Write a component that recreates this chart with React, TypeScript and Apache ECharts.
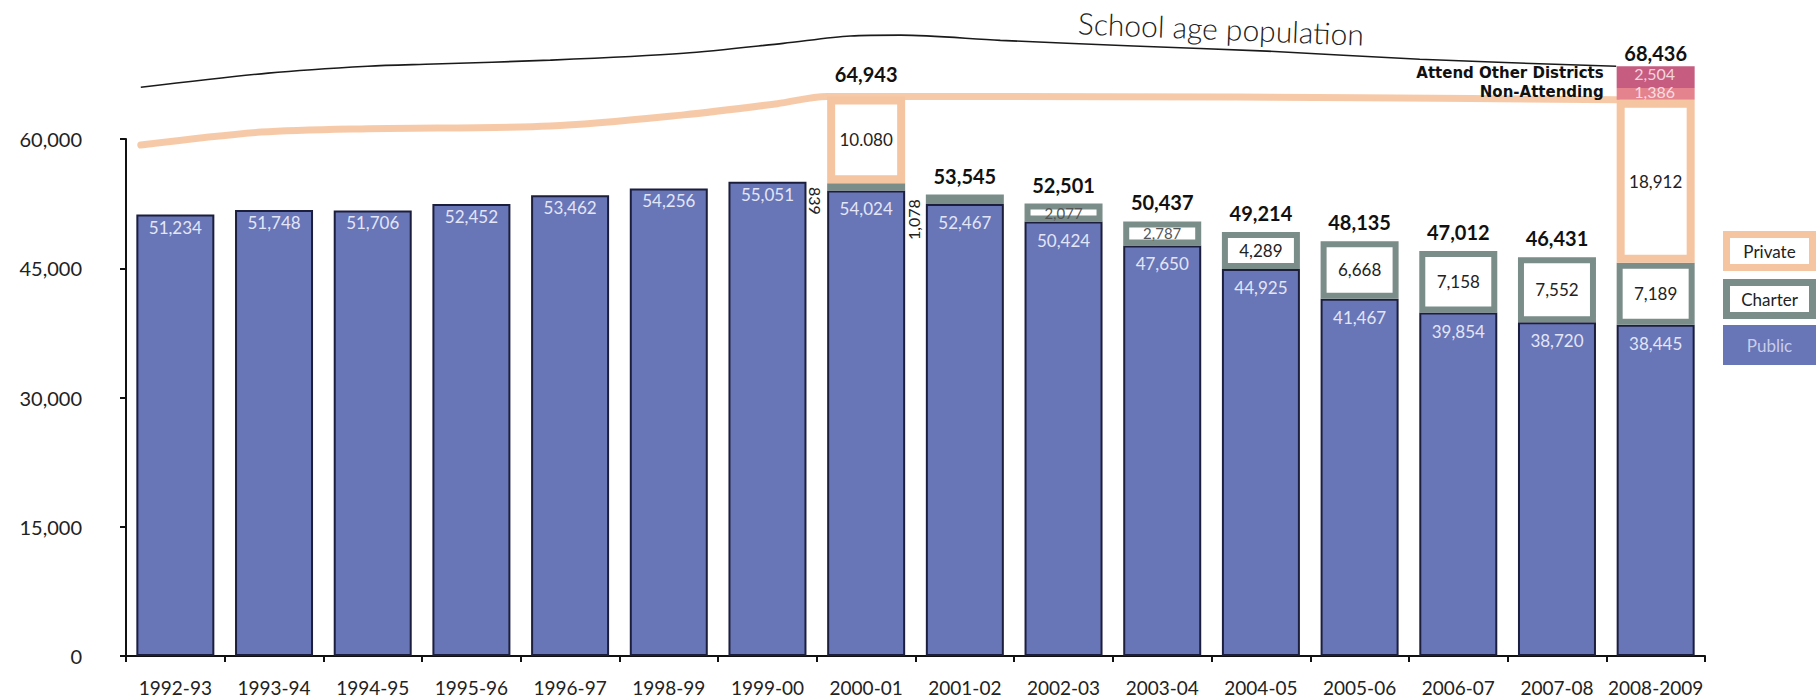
import React, { useEffect, useRef } from "react";
import * as echarts from "echarts";

const categories = [
  "1992-93", "1993-94", "1994-95", "1995-96", "1996-97", "1998-99", "1999-00", "2000-01",
  "2001-02", "2002-03", "2003-04", "2004-05", "2005-06", "2006-07", "2007-08", "2008-2009",
];
const publicValues = [51234, 51748, 51706, 52452, 53462, 54256, 55051, 54024, 52467, 50424, 47650, 44925, 41467, 39854, 38720, 38445];
const charterValues = [null, null, null, null, null, null, null, 839, 1078, 2077, 2787, 4289, 6668, 7158, 7552, 7189];
const privateValues = [null, null, null, null, null, null, null, 10080, null, null, null, null, null, null, null, 18912];
const nonAttendingValues = [null, null, null, null, null, null, null, null, null, null, null, null, null, null, null, 1386];
const otherDistrictValues = [null, null, null, null, null, null, null, null, null, null, null, null, null, null, null, 2504];
const totalLabels = [null, null, null, null, null, null, null, 64943, 53545, 52501, 50437, 49214, 48135, 47012, 46431, 68436];

// School age population line (x in category units, y in students)
const popX = [0.15, 1.44, 2.45, 3.12, 4.3, 5.65, 6.66, 7.34, 7.85, 8.86, 10.21, 11.56, 13.11, 15.1];
const popValues = [66000, 67650, 68450, 68700, 69150, 69950, 71100, 71950, 72050, 71450, 70800, 70200, 69250, 68436];

// Thick orange enrollment line
const enrollX = [0.15, 1.37, 2.45, 4.3, 5.65, 6.6, 7.1, 7.9, 10.0, 12.5, 15.1];
const enrollValues = [59300, 60800, 61200, 61500, 62800, 64100, 64943, 64943, 64900, 64800, 64546];

const yMin = 0;
const yMax = 60000;
const yInterval = 15000;

const FONT = "Lato, 'Open Sans', sans-serif";
const BOLD_FONT = "'DejaVu Sans', Lato, sans-serif";
const PUBLIC_FILL = "#6875b6";
const PUBLIC_BORDER = "#1b1f3d";
const CHARTER_GRAY = "#7b8d89";
const PEACH = "#f5c4a0";
const PINK_LOW = "#e4838d";
const PINK_HIGH = "#c65d80";

const fmt = (v: number) => Number(v).toLocaleString("en-US");

export default function App() {
  const ref = useRef<HTMLDivElement>(null);

  useEffect(() => {
    if (!ref.current) return;
    const chart = echarts.init(ref.current, undefined, { renderer: "svg" });

    const publicData = publicValues.map((v, i) => ({
      value: v,
      label: { distance: i >= 7 ? 10 : 4 },
    }));

    const charterData = charterValues.map((v, i) => {
      if (v == null) return "-";
      if (i === 7) {
        return {
          value: v,
          label: {
            position: "left",
            rotate: -90,
            align: "left",
            verticalAlign: "top",
            distance: 4,
            color: "#222",
            fontSize: 16,
          },
        };
      }
      if (i === 8) {
        return {
          value: v,
          label: {
            position: "left",
            rotate: 90,
            align: "right",
            verticalAlign: "bottom",
            distance: 4,
            color: "#222",
            fontSize: 16,
          },
        };
      }
      if (v < 3000) {
        return { value: v, label: { color: "#555", fontSize: 15 } };
      }
      return v;
    });

    const privateData = privateValues.map((v, i) => {
      if (v == null) return "-";
      if (i === 7) return { value: v, label: { formatter: "10.080" } };
      return v;
    });

    const totalData = totalLabels.map((v, i) => {
      if (v == null) return "-";
      if (i === 7) return { value: 0, label: { distance: 12 } };
      if (i === 15) return { value: 0, label: { distance: 3 } };
      return 0;
    });

    const toData = (arr: (number | null)[]) => arr.map((v) => (v == null ? "-" : v));

    const sideLabel = (color: string, dy: number) => ({
      show: true,
      position: "insideRight",
      distance: 0,
      offset: [0, dy],
      fontSize: 15,
      fontWeight: "bold",
      fontFamily: BOLD_FONT,
      lineHeight: 16,
      formatter: (p: any) => "{n|" + p.seriesName + "}{v|" + fmt(p.value) + "}",
      rich: {
        n: { fontFamily: BOLD_FONT, fontWeight: "bold", fontSize: 15, lineHeight: 16, color: "#111", padding: [0, 11, 0, 0] },
        v: { fontFamily: FONT, fontWeight: "normal", fontSize: 16, lineHeight: 16, color, width: 80, align: "center" },
      },
    });

    const option: any = {
      animation: false,
      backgroundColor: "#ffffff",
      textStyle: { fontFamily: FONT },
      grid: { left: 126, right: 115, top: 139, bottom: 44, containLabel: false },
      xAxis: [
        {
          type: "category",
          data: categories,
          axisLine: { show: true, lineStyle: { color: "#111", width: 2 } },
          axisTick: { show: true, length: 6, lineStyle: { color: "#111", width: 2 } },
          axisLabel: { color: "#222", fontSize: 19, margin: 22, fontFamily: FONT, interval: 0 },
          splitLine: { show: false },
        },
        { type: "value", min: 0, max: 16, show: false },
      ],
      yAxis: {
        type: "value",
        min: yMin,
        max: yMax,
        interval: yInterval,
        axisLine: { show: true, lineStyle: { color: "#111", width: 2 } },
        axisTick: { show: true, length: 6, lineStyle: { color: "#111", width: 2 } },
        axisLabel: { color: "#222", fontSize: 20, margin: 44, fontFamily: FONT, formatter: (v: number) => fmt(v) },
        splitLine: { show: false },
      },
      series: [
        {
          name: "Enrollment",
          type: "line",
          xAxisIndex: 1,
          clip: false,
          smooth: 0.3,
          symbol: "none",
          showSymbol: false,
          z: 1,
          data: enrollX.map((x, i) => [x, enrollValues[i]]),
          lineStyle: { color: PEACH, width: 7, opacity: 0.9, cap: "round" },
        },
        {
          name: "Public",
          type: "bar",
          stack: "enroll",
          barWidth: 78,
          clip: false,
          data: publicData,
          itemStyle: { color: PUBLIC_FILL, borderColor: PUBLIC_BORDER, borderWidth: 2 },
          label: {
            show: true,
            position: "insideTop",
            color: "#e3e6f6",
            fontSize: 17,
            fontFamily: FONT,
            formatter: (p: any) => fmt(p.value),
          },
        },
        {
          name: "Charter",
          type: "bar",
          stack: "enroll",
          barWidth: 78,
          clip: false,
          data: charterData,
          itemStyle: { color: "#ffffff", borderColor: CHARTER_GRAY, borderWidth: 6 },
          label: {
            show: true,
            position: "inside",
            color: "#222",
            fontSize: 17,
            fontFamily: FONT,
            formatter: (p: any) => fmt(p.value),
          },
        },
        {
          name: "Private",
          type: "bar",
          stack: "enroll",
          barWidth: 78,
          clip: false,
          data: privateData,
          itemStyle: { color: "#ffffff", borderColor: PEACH, borderWidth: 8 },
          label: {
            show: true,
            position: "inside",
            color: "#222",
            fontSize: 17,
            fontFamily: FONT,
            formatter: (p: any) => fmt(p.value),
          },
        },
        {
          name: "Non-Attending",
          type: "bar",
          stack: "enroll",
          barWidth: 78,
          clip: false,
          data: toData(nonAttendingValues),
          itemStyle: { color: PINK_LOW },
          label: sideLabel("#f6dde1", -2),
        },
        {
          name: "Attend Other Districts",
          type: "bar",
          stack: "enroll",
          barWidth: 78,
          clip: false,
          data: toData(otherDistrictValues),
          itemStyle: { color: PINK_HIGH },
          label: sideLabel("#f3d4de", -4),
        },
        {
          name: "Total",
          type: "bar",
          stack: "enroll",
          barWidth: 78,
          clip: false,
          data: totalData,
          itemStyle: { color: "rgba(0,0,0,0)", borderWidth: 0 },
          label: {
            show: true,
            position: "top",
            distance: 9,
            color: "#111",
            fontSize: 20,
            fontWeight: "bold",
            fontFamily: FONT,
            formatter: (p: any) => fmt(totalLabels[p.dataIndex] as number),
          },
        },
        {
          name: "School age population",
          type: "line",
          xAxisIndex: 1,
          clip: false,
          smooth: 0.3,
          symbol: "none",
          showSymbol: false,
          z: 4,
          data: popX.map((x, i) => [x, popValues[i]]),
          lineStyle: { color: "#1a1a1a", width: 1.6 },
        },
      ],
      graphic: [
        {
          type: "text",
          x: 1221,
          y: 28,
          rotation: -0.04,
          style: {
            text: "School age population",
            fill: "#222",
            fontSize: 30,
            fontWeight: 300,
            fontFamily: FONT,
            align: "center",
            verticalAlign: "middle",
          },
        },
        {
          type: "group",
          x: 1723,
          y: 231,
          children: [
            {
              type: "rect",
              shape: { x: 3.5, y: 3.5, width: 86, height: 33 },
              style: { fill: "#fff", stroke: PEACH, lineWidth: 7 },
            },
            {
              type: "text",
              x: 46.5,
              y: 20,
              style: { text: "Private", fill: "#222", fontSize: 17, fontFamily: FONT, align: "center", verticalAlign: "middle" },
            },
            {
              type: "rect",
              shape: { x: 3.5, y: 51.5, width: 86, height: 33 },
              style: { fill: "#fff", stroke: CHARTER_GRAY, lineWidth: 7 },
            },
            {
              type: "text",
              x: 46.5,
              y: 68,
              style: { text: "Charter", fill: "#222", fontSize: 17, fontFamily: FONT, align: "center", verticalAlign: "middle" },
            },
            {
              type: "rect",
              shape: { x: 0, y: 94, width: 93, height: 40 },
              style: { fill: PUBLIC_FILL },
            },
            {
              type: "text",
              x: 46.5,
              y: 114,
              style: { text: "Public", fill: "#c9cdea", fontSize: 17, fontFamily: FONT, align: "center", verticalAlign: "middle" },
            },
          ],
        },
      ],
    };

    chart.setOption(option);
    return () => chart.dispose();
  }, []);

  return (
    <div
      ref={ref}
      style={{ position: "absolute", left: 0, top: 0, width: 1820, height: 700, background: "#fff" }}
    />
  );
}
